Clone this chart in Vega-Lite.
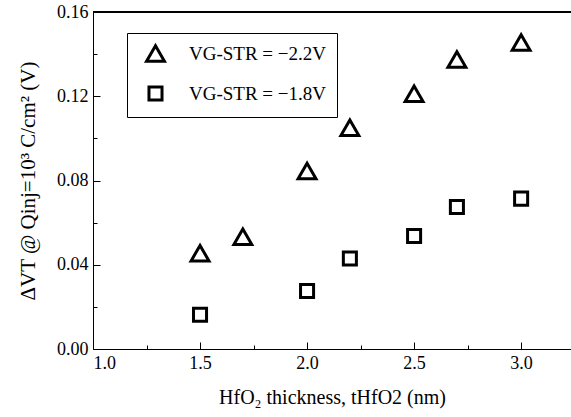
{
  "$schema": "https://vega.github.io/schema/vega-lite/v6.json",
  "autosize": {"type": "none"},
  "width": 478,
  "height": 337,
  "padding": {"left": 93, "top": 12, "right": 0, "bottom": 68},
  "config": {
    "view": {"stroke": null},
    "font": "Liberation Serif, Times New Roman, serif",
    "axis": {"domainColor": "black", "tickColor": "black", "labelColor": "black", "titleColor": "black", "labelFont": "Liberation Serif, Times New Roman, serif", "titleFont": "Liberation Serif, Times New Roman, serif", "labelFontSize": 18, "titleFontSize": 20, "titleFontWeight": "normal", "grid": false, "domainWidth": 1, "tickWidth": 1},
    "legend": {"labelFont": "Liberation Serif, Times New Roman, serif"}
  },
  "data": {
    "values": [
      {"t": 1.5, "dv": 0.0455, "s": "VG-STR = −2.2V"},
      {"t": 1.7, "dv": 0.0533, "s": "VG-STR = −2.2V"},
      {"t": 2.0, "dv": 0.0845, "s": "VG-STR = −2.2V"},
      {"t": 2.2, "dv": 0.105, "s": "VG-STR = −2.2V"},
      {"t": 2.5, "dv": 0.1212, "s": "VG-STR = −2.2V"},
      {"t": 2.7, "dv": 0.1375, "s": "VG-STR = −2.2V"},
      {"t": 3.0, "dv": 0.1455, "s": "VG-STR = −2.2V"},
      {"t": 1.5, "dv": 0.0163, "s": "VG-STR = −1.8V"},
      {"t": 2.0, "dv": 0.0275, "s": "VG-STR = −1.8V"},
      {"t": 2.2, "dv": 0.043, "s": "VG-STR = −1.8V"},
      {"t": 2.5, "dv": 0.0537, "s": "VG-STR = −1.8V"},
      {"t": 2.7, "dv": 0.0674, "s": "VG-STR = −1.8V"},
      {"t": 3.0, "dv": 0.0714, "s": "VG-STR = −1.8V"}
    ]
  },
  "layer": [
    {
      "mark": {"type": "rule", "color": "black", "strokeWidth": 1},
      "encoding": {"y": {"datum": 0.16}}
    },
    {
      "mark": {"type": "point", "filled": false, "strokeWidth": 3, "opacity": 1, "color": "black"},
      "encoding": {
        "x": {
          "field": "t", "type": "quantitative",
          "scale": {"domain": [1.0, 3.233], "nice": false, "zero": false},
          "axis": {
            "title": "HfO₂ thickness, tHfO2 (nm)",
            "values": [1.0, 1.25, 1.5, 1.75, 2.0, 2.25, 2.5, 2.75, 3.0],
            "format": ".1f",
            "labelExpr": "round(datum.value*4) % 2 == 0 ? datum.label : ''",
            "tickSize": {"condition": {"test": "round(datum.value*4) % 2 == 0", "value": -7}, "value": -4},
            "labelPadding": 12,
            "titlePadding": 15
          }
        },
        "y": {
          "field": "dv", "type": "quantitative",
          "scale": {"domain": [0, 0.16], "nice": false},
          "axis": {
            "title": "ΔVT @ Qinj=10³ C/cm² (V)",
            "titleFontSize": 21,
            "values": [0, 0.02, 0.04, 0.06, 0.08, 0.1, 0.12, 0.14, 0.16],
            "format": ".2f",
            "labelExpr": "round(datum.value*100) % 4 == 0 ? datum.label : ''",
            "tickSize": {"condition": {"test": "round(datum.value*100) % 4 == 0", "value": -7}, "value": -4},
            "labelPadding": 12,
            "titlePadding": 18
          }
        },
        "shape": {
          "field": "s", "type": "nominal",
          "scale": {"domain": ["VG-STR = −2.2V", "VG-STR = −1.8V"], "range": ["triangle-up", "square"]},
          "legend": {
            "title": null,
            "orient": "none",
            "legendX": 34,
            "legendY": 21,
            "strokeColor": "black",
            "padding": 10,
            "labelFont": "Liberation Serif, Times New Roman, serif",
            "labelFontSize": 19,
            "labelColor": "black",
            "symbolStrokeColor": "black",
            "symbolStrokeWidth": 3,
            "symbolOffset": 8,
            "rowPadding": 12,
            "labelOffset": 23
          }
        },
        "size": {
          "field": "s", "type": "nominal",
          "scale": {"domain": ["VG-STR = −2.2V", "VG-STR = −1.8V"], "range": [320, 170]},
          "legend": {
            "title": null,
            "orient": "none",
            "legendX": 34,
            "legendY": 21,
            "strokeColor": "black",
            "padding": 10,
            "labelFont": "Liberation Serif, Times New Roman, serif",
            "labelFontSize": 19,
            "labelColor": "black",
            "symbolStrokeColor": "black",
            "symbolStrokeWidth": 3,
            "symbolOffset": 8,
            "rowPadding": 12,
            "labelOffset": 23
          }
        }
      }
    }
  ]
}
